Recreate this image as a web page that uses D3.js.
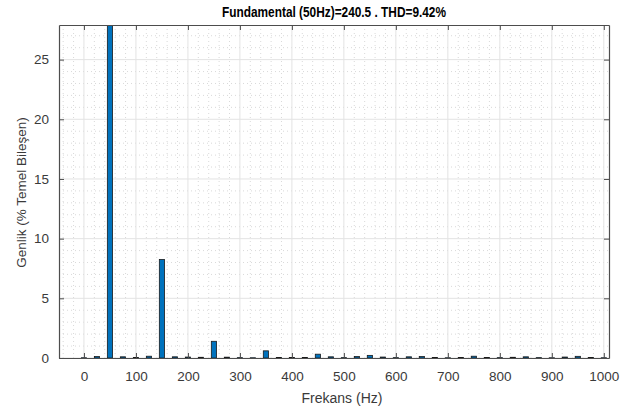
<!DOCTYPE html>
<html>
<head>
<meta charset="utf-8">
<script src="https://cdn.jsdelivr.net/npm/d3@7"></script>
<style>
  body { margin: 0; background: #fff; }
  text { font-family: "Liberation Sans", Arial, sans-serif; }
</style>
</head>
<body>
<svg id="chart" width="641" height="410"></svg>
<script>
// harmonic frequencies (Hz), every 25 Hz
var freqs = d3.range(0, 1001, 25);
// amplitude in % of fundamental
var amps = [0.02, 0.12, 100, 0.1, 0.05, 0.15, 8.25, 0.1, 0.08, 0.06,
            1.4, 0.07, 0.03, 0.02, 0.6, 0.05, 0.05, 0.04, 0.32, 0.1,
            0.03, 0.12, 0.22, 0.08, 0.03, 0.1, 0.12, 0.04, 0.02, 0.05,
            0.15, 0.04, 0.03, 0.06, 0.1, 0.03, 0.02, 0.08, 0.14, 0.04, 0.02];
var xTicks = d3.range(0, 1001, 100);
var yTicks = [0, 5, 10, 15, 20, 25];
var titleText = "Fundamental (50Hz)=240.5 . THD=9.42%";

var data = freqs.map(function(f, i) { return {f: f, a: amps[i]}; });

var svg = d3.select("#chart"),
    margin = {top: 25, right: 32, bottom: 52, left: 59},
    width = +svg.attr("width") - margin.left - margin.right,
    height = +svg.attr("height") - margin.top - margin.bottom;

var x = d3.scaleLinear().domain([-48, 1010]).range([0, width]),
    y = d3.scaleLinear().domain([0, 27.9]).range([height, 0]);

var g = svg.append("g")
    .attr("transform", "translate(" + margin.left + "," + margin.top + ")");

g.append("clipPath").attr("id", "clip")
  .append("rect").attr("width", width).attr("height", height);

// minor grid (dotted)
var xMinor = d3.range(-40, 1010, 20).filter(function(v) { return v % 100 !== 0; });
var yMinor = d3.range(1, 28, 1).filter(function(v) { return v % 5 !== 0; });
g.append("g").selectAll("line").data(xMinor).enter().append("line")
    .attr("x1", function(d) { return x(d); }).attr("x2", function(d) { return x(d); })
    .attr("y1", 0).attr("y2", height)
    .attr("stroke", "#cfcfcf").attr("stroke-width", 0.8).attr("stroke-dasharray", "1,3");
g.append("g").selectAll("line").data(yMinor).enter().append("line")
    .attr("y1", function(d) { return y(d); }).attr("y2", function(d) { return y(d); })
    .attr("x1", 0).attr("x2", width)
    .attr("stroke", "#cfcfcf").attr("stroke-width", 0.8).attr("stroke-dasharray", "1,3");

// major grid
g.append("g").selectAll("line").data(xTicks).enter().append("line")
    .attr("x1", function(d) { return x(d); }).attr("x2", function(d) { return x(d); })
    .attr("y1", 0).attr("y2", height)
    .attr("stroke", "#e3e3e3").attr("stroke-width", 1);
g.append("g").selectAll("line").data(yTicks).enter().append("line")
    .attr("y1", function(d) { return y(d); }).attr("y2", function(d) { return y(d); })
    .attr("x1", 0).attr("x2", width)
    .attr("stroke", "#e3e3e3").attr("stroke-width", 1);

// bars
var bw = x(10) - x(0);
g.append("g").attr("clip-path", "url(#clip)")
  .selectAll(".bar")
  .data(data)
  .enter().append("rect")
    .attr("class", "bar")
    .attr("x", function(d) { return x(d.f) - bw / 2; })
    .attr("y", function(d) { return y(d.a); })
    .attr("width", bw)
    .attr("height", function(d) { return height - y(d.a); })
    .attr("fill", "#0072bd")
    .attr("stroke", "#1a1a1a")
    .attr("stroke-width", 0.8);

// axes (ticks inward, labels outside)
var xAxis = g.append("g")
    .attr("transform", "translate(0," + height + ")")
    .call(d3.axisBottom(x).tickValues(xTicks).tickFormat(d3.format("d"))
      .tickSizeInner(-5).tickSizeOuter(0).tickPadding(13));
var xTop = g.append("g")
    .call(d3.axisTop(x).tickValues(xTicks).tickSizeInner(-5).tickSizeOuter(0).tickFormat(""));
var yAxis = g.append("g")
    .call(d3.axisLeft(y).tickValues(yTicks).tickSizeInner(-5).tickSizeOuter(0).tickPadding(10));
var yRight = g.append("g")
    .attr("transform", "translate(" + width + ",0)")
    .call(d3.axisRight(y).tickValues(yTicks).tickSizeInner(-5).tickSizeOuter(0).tickFormat(""));

[xAxis, xTop, yAxis, yRight].forEach(function(a) {
  a.select(".domain").attr("stroke", "#4d4d4d").attr("stroke-width", 1.2);
  a.selectAll(".tick line").attr("stroke", "#4d4d4d");
  a.selectAll(".tick text").attr("fill", "#3a3a3a").style("font-size", "13.5px")
    .style("font-family", "'Liberation Sans', Arial, sans-serif");
});

// title
svg.append("text")
    .attr("x", margin.left + width / 2)
    .attr("y", 17)
    .attr("text-anchor", "middle")
    .attr("textLength", 224)
    .attr("lengthAdjust", "spacingAndGlyphs")
    .style("font-family", "'Liberation Sans', Arial, sans-serif")
    .style("font-weight", "bold")
    .style("font-size", "14px")
    .attr("fill", "#000")
    .text(titleText);

// axis labels
svg.append("text")
    .attr("x", margin.left + width / 2 + 8)
    .attr("y", 403)
    .attr("text-anchor", "middle")
    .style("font-size", "14px")
    .attr("fill", "#3a3a3a")
    .text("Frekans (Hz)");

svg.append("text")
    .attr("transform", "translate(26," + (margin.top + height / 2 + 1) + ") rotate(-90)")
    .attr("text-anchor", "middle")
    .style("font-size", "13.5px")
    .attr("fill", "#3a3a3a")
    .text("Genlik (% Temel Bileşen)");
</script>
</body>
</html>
